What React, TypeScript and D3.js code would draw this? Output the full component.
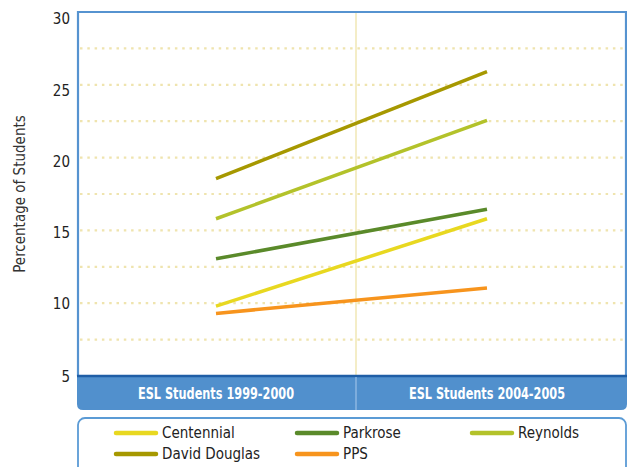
import React from "react";
import * as d3 from "d3";

const categories = ["ESL Students 1999-2000", "ESL Students 2004-2005"];
const seriesNames = ["Centennial", "Parkrose", "Reynolds", "David Douglas", "PPS"];
const centennial = [9.8, 15.8];
const parkrose = [13.05, 16.45];
const reynolds = [15.8, 22.55];
const davidDouglas = [18.55, 25.9];
const pps = [9.3, 11.05];
const seriesColors = ["#e8d820", "#5a8a2a", "#b3c22a", "#a69800", "#f7941d"];
const yTicks = [5, 10, 15, 20, 25, 30];
const gridValues = [7.5, 10, 12.5, 15, 17.5, 20, 22.5, 25, 27.5];

const W = 627;
const H = 467;
const FONT = "'Liberation Sans Narrow', 'DejaVu Sans Condensed', 'Roboto Condensed', sans-serif";

export default function App() {
  const left = 78;
  const right = 626;
  const top = 12;
  const base = 376;
  const series = [centennial, parkrose, reynolds, davidDouglas, pps];

  const y = d3.scaleLinear().domain([5, 30]).range([base, top]);
  const xBand = d3.scaleBand().domain(categories).range([left, right + 8]);
  const x = d3.scalePoint().domain(categories).range([216, 487]);
  const line = d3
    .line<number>()
    .x((_, i) => x(categories[i]) as number)
    .y((d) => y(d));

  const divX = xBand(categories[1]) as number;

  const legendCols = [116, 297, 472];
  const legendRows = [433, 454];

  return (
    <svg
      width={W}
      height={H}
      style={{ position: "absolute", left: 0, top: 0, background: "#fff" }}
      fontFamily={FONT}
    >
      {gridValues.map((g) => (
        <line
          key={g}
          x1={left + 2}
          x2={right - 2}
          y1={y(g)}
          y2={y(g)}
          stroke="#efe4ae"
          strokeWidth={2.2}
          strokeDasharray="2.5 4.8"
        />
      ))}
      <line x1={divX} x2={divX} y1={top} y2={base} stroke="#f1e7b4" strokeWidth={1.5} />
      <path
        d={`M${left},${base} L${left},${top} L${right},${top} L${right},${base}`}
        fill="none"
        stroke="#5693d0"
        strokeWidth={2.2}
      />
      <path
        d={`M${left - 1},${base} L${right + 1},${base} L${right + 1},${404} Q${right + 1},${410} ${right - 5},${410} L${left + 5},${410} Q${left - 1},${410} ${left - 1},${404} Z`}
        fill="#5190cd"
      />
      <line x1={left - 1} x2={right + 1} y1={base} y2={base} stroke="#1f5ea6" strokeWidth={2.5} />
      <line x1={divX} x2={divX} y1={base + 1} y2={410} stroke="#9cc2e8" strokeWidth={1.2} />
      {categories.map((c) => (
        <text
          key={c}
          x={(x(c) as number) - 78}
          y={394}
          dominantBaseline="middle"
          fill="#fff"
          fontWeight="bold"
          fontSize={16.5}
          textLength={156}
          lengthAdjust="spacingAndGlyphs"
        >
          {c}
        </text>
      ))}
      {yTicks.map((t) => (
        <text
          key={t}
          x={70}
          y={y(t) + (t >= 25 ? 7 : t === 20 ? 5 : t === 15 ? 3 : 1)}
          textAnchor="end"
          dominantBaseline="middle"
          fontSize={15}
          fill="#222"
        >
          {t}
        </text>
      ))}
      <text
        transform={`translate(20,194) rotate(-90)`}
        textAnchor="middle"
        dominantBaseline="middle"
        fontSize={15}
        fill="#333"
      >
        Percentage of Students
      </text>
      {series.map((s, i) => (
        <path key={i} d={line(s) as string} fill="none" stroke={seriesColors[i]} strokeWidth={3.5} />
      ))}
      <rect
        x={left}
        y={418}
        width={right - left}
        height={80}
        rx={7}
        fill="#fff"
        stroke="#5b9bd5"
        strokeWidth={1.8}
      />
      {seriesNames.map((n, i) => {
        const col = i % 3;
        const row = Math.floor(i / 3);
        const lx = legendCols[col];
        const ly = legendRows[row];
        return (
          <g key={n}>
            <line
              x1={lx}
              x2={lx + 40}
              y1={ly}
              y2={ly}
              stroke={seriesColors[i]}
              strokeWidth={4.5}
              strokeLinecap="round"
            />
            <text x={lx + 46} y={ly} dominantBaseline="middle" fontSize={15} fill="#222">
              {n}
            </text>
          </g>
        );
      })}
    </svg>
  );
}
